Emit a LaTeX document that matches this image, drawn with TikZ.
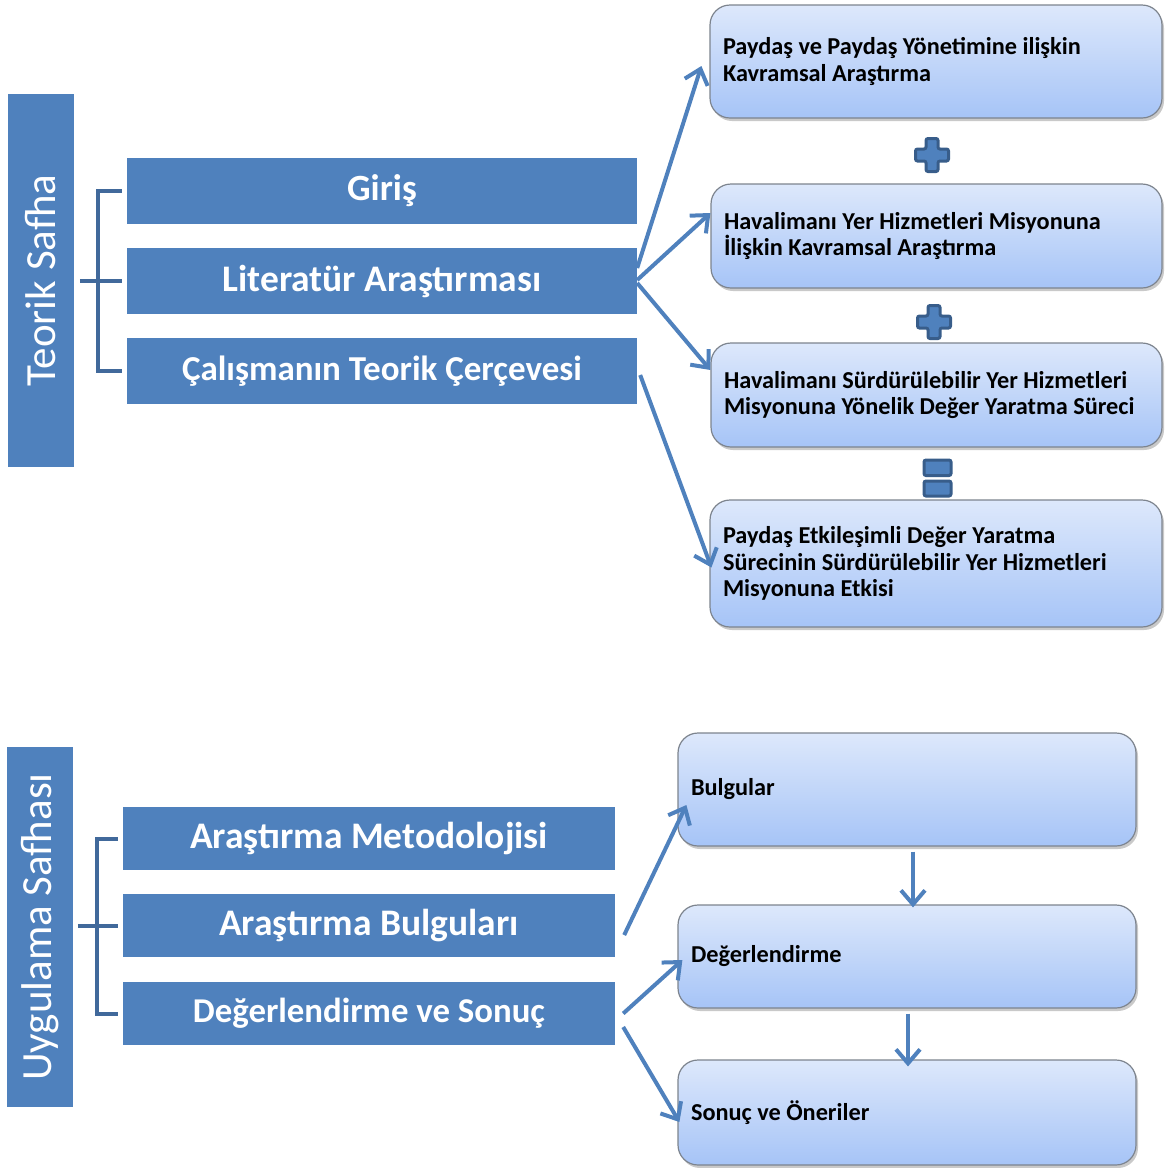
\documentclass[tikz,border=0pt]{standalone}
\usepackage{fontspec}
\setmainfont{Carlito}
\usetikzlibrary{arrows.meta,shadows,calc}
\definecolor{barblue}{HTML}{4F81BD}
\definecolor{brkblue}{HTML}{41699B}
\definecolor{cardtop}{HTML}{DDE8FB}
\definecolor{cardbot}{HTML}{A6C4F7}
\definecolor{cardedge}{HTML}{7D848E}
\definecolor{signedge}{HTML}{385D8A}
\begin{document}
\begin{tikzpicture}[x=1pt,y=-1pt,
  phase/.style={fill=barblue, text=white, inner sep=0pt, rotate=90,
    minimum height=66pt, font=\fontsize{43}{46}\selectfont},
  item/.style={fill=barblue, text=white, inner sep=0pt,
    minimum height=66pt, font=\bfseries\fontsize{#1}{42}\selectfont},
  item/.default=37.5,
  card/.style={draw=cardedge, line width=1.2pt, rounded corners=20pt,
    top color=cardtop, bottom color=cardbot, inner xsep=13pt, inner ysep=0pt,
    align=flush left, font=\bfseries\fontsize{24.3}{26.3}\selectfont,
    drop shadow={shadow xshift=2pt, shadow yshift=-3pt, opacity=0.3, fill=black!70}},
  brk/.style={draw=brkblue, line width=4pt},
  arr/.style={draw=barblue, line width=4pt, -{Straight Barb[length=14pt,width=24pt]}},
  sign/.style={fill=barblue, draw=signedge, line width=3pt, rounded corners=2pt}]
\useasboundingbox (0,0) rectangle (1168,1168);

% ---------- theoretical phase ----------
\node[phase, minimum width=373pt] (teorik) at (41,280.5) {Teorik Safha};
\node[item=37, minimum width=510pt] (giris) at (382,191) {Giriş};
\node[item, minimum width=510pt] (lit) at (382,281) {Literatür Araştırması};
\node[item=35, minimum width=510pt] (cal) at (382,371) {Çalışmanın Teorik Çerçevesi};

\draw[brk] ([xshift=-5pt]giris.west) -- ++(-24,0) |- ([xshift=-5pt]cal.west);
\draw[brk] ([xshift=-47pt]lit.west) -- ([xshift=-5pt]lit.west);

\node[card, text width=426pt, minimum height=113pt] (p1) at (936,61.5)
  {Paydaş ve Paydaş Yönetimine ilişkin\\Kavramsal Araştırma};
\node[card, text width=425pt, minimum height=104pt] (p2) at (936.5,236)
  {Havalimanı Yer Hizmetleri Misyonuna\\İlişkin Kavramsal Araştırma};
\node[card, text width=425pt, minimum height=104pt] (p3) at (936.5,395)
  {Havalimanı Sürdürülebilir Yer Hizmetleri\\Misyonuna Yönelik Değer Yaratma Süreci};
\node[card, text width=426pt, minimum height=127pt] (p4) at (936,563.5)
  {Paydaş Etkileşimli Değer Yaratma\\Sürecinin Sürdürülebilir Yer Hizmetleri\\Misyonuna Etkisi};

% plus signs between the cards
\foreach \cx/\cy in {932/155, 934/322}{
  \draw[sign] (\cx-6,\cy-16.5) -- (\cx+6,\cy-16.5) -- (\cx+6,\cy-6) -- (\cx+16.5,\cy-6)
    -- (\cx+16.5,\cy+6) -- (\cx+6,\cy+6) -- (\cx+6,\cy+16.5) -- (\cx-6,\cy+16.5)
    -- (\cx-6,\cy+6) -- (\cx-16.5,\cy+6) -- (\cx-16.5,\cy-6) -- (\cx-6,\cy-6) -- cycle;
}
% equals sign
\draw[sign] (924,460) rectangle (951,475.5);
\draw[sign] (924,481) rectangle (951,496);

\draw[arr] ([yshift=13pt]lit.east) -- ([xshift=-8pt,yshift=-4.5pt]p1.west);
\draw[arr] ([yshift=1pt]lit.east) -- ([yshift=23pt]p2.west);
\draw[arr] ([yshift=-2pt]lit.east) -- ([yshift=25pt]p3.west);
\draw[arr] ([xshift=3pt,yshift=-4pt]cal.east) -- ([xshift=2pt,yshift=-4pt]p4.west);

% ---------- application phase ----------
\node[phase, minimum width=360pt] (uyg) at (40,927) {Uygulama Safhası};
\node[item, minimum width=492pt, minimum height=63pt] (met) at (369,838.5) {Araştırma Metodolojisi};
\node[item, minimum width=492pt, minimum height=63pt] (bul) at (369,925.5) {Araştırma Bulguları};
\node[item=34.8, minimum width=492pt, minimum height=63pt] (deg) at (369,1013.5) {Değerlendirme ve Sonuç};

\draw[brk] ([xshift=-5pt]met.west) -- ++(-21,0) |- ([xshift=-5pt]deg.west);
\draw[brk] ([xshift=-45pt]bul.west) -- ([xshift=-5pt]bul.west);

\node[card, text width=432pt, minimum height=113pt, inner xsep=13pt] (b1) at (907,789.5) {Bulgular};
\node[card, text width=432pt, minimum height=103pt, inner xsep=13pt] (b2) at (907,956.5) {Değerlendirme};
\node[card, text width=432pt, minimum height=105pt, inner xsep=13pt] (b3) at (907,1112.5) {Sonuç ve Öneriler};

\draw[arr] ([xshift=9pt,yshift=-9.5pt]bul.east) -- ([xshift=9pt,yshift=-15.5pt]b1.west);
\draw[arr] ([xshift=8pt]deg.east) -- ([xshift=5pt,yshift=-3.5pt]b2.west);
\draw[arr] ([xshift=8pt,yshift=-13.5pt]deg.east) -- ([xshift=2pt,yshift=-9.5pt]b3.west);
\draw[arr] ([xshift=6pt,yshift=-5pt]b1.south) -- ([xshift=6pt,yshift=-3pt]b2.north);
\draw[arr] ([xshift=1pt,yshift=-5pt]b2.south) -- ([xshift=1pt,yshift=-7pt]b3.north);
\end{tikzpicture}
\end{document}
